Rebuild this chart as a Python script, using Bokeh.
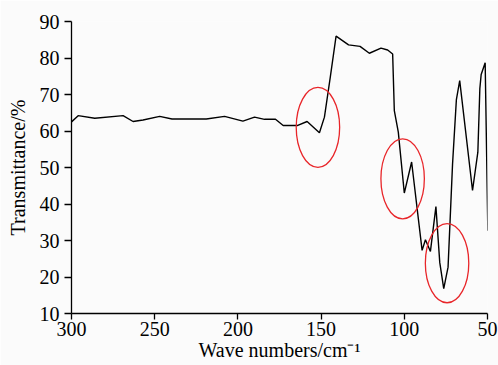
from bokeh.plotting import figure
from bokeh.models import Range1d, FixedTicker
from bokeh.embed import file_html
from bokeh.resources import INLINE

wavenumber = [300, 296, 286, 269, 263, 257, 247, 239.6, 219, 208, 197, 190, 184, 177.4,
              172.8, 164.4, 158.4, 151, 148, 144.5, 141, 133.5, 126.6, 121, 114, 110, 107,
              106, 103.6, 100, 95.6, 89.3, 87.3, 84.3, 81, 78.7, 76.3, 73.7, 71, 68.7,
              66.7, 59, 55.8, 54.6, 53.8, 51.4, 49.8]
transmittance = [62.5, 64.2, 63.5, 64.2, 62.6, 63.0, 64.0, 63.3, 63.3, 64.0, 62.7, 63.8, 63.2, 63.2,
                 61.5, 61.5, 62.6, 59.5, 63.8, 74.7, 86.0, 83.6, 83.2, 81.3, 82.7, 82.2, 81.1,
                 65.6, 59.7, 43.0, 51.5, 27.3, 30.2, 27.0, 39.3, 24.0, 16.8, 22.7, 51.0, 68.6,
                 73.8, 43.7, 54.2, 71.6, 75.5, 78.7, 32.7]

circle_x = [151.9, 101.0, 74.3]
circle_y = [61.0, 46.9, 23.8]
circle_w = [26.1, 26.1, 26.1]
circle_h = [21.9, 21.9, 21.7]

x_ticks = [300, 250, 200, 150, 100, 50]
y_ticks = [10, 20, 30, 40, 50, 60, 70, 80, 90]

p = figure(width=498, height=365, output_backend="svg", toolbar_location=None,
           x_range=Range1d(300, 50), y_range=Range1d(10, 90),
           min_border_left=71, min_border_right=11, min_border_top=21, min_border_bottom=52)
p.background_fill_color = "#fbfbfb"
p.border_fill_color = "#fbfbfb"
p.outline_line_color = None
p.grid.visible = False

p.line(wavenumber, transmittance, line_color="black", line_width=1.4)
p.ellipse(x=circle_x, y=circle_y, width=circle_w, height=circle_h,
          fill_color=None, line_color="#e8262a", line_width=1.3)

font = "Liberation Serif"
for ax in (p.xaxis[0], p.yaxis[0]):
    ax.major_label_text_font = font
    ax.major_label_text_font_size = "20px"
    ax.major_label_text_color = "black"
    ax.axis_label_text_font = font
    ax.axis_label_text_font_size = "20px"
    ax.axis_label_text_font_style = "normal"
    ax.axis_label_text_color = "black"
    ax.minor_tick_line_color = None
    ax.axis_line_color = "black"
    ax.axis_line_width = 1.3
    ax.major_tick_line_color = "black"
    ax.major_tick_line_width = 1.3

p.xaxis[0].ticker = FixedTicker(ticks=x_ticks)
p.yaxis[0].ticker = FixedTicker(ticks=y_ticks)
p.xaxis[0].major_tick_in = 0
p.xaxis[0].major_tick_out = 6
p.yaxis[0].major_tick_in = 0
p.yaxis[0].major_tick_out = 7
p.xaxis[0].major_label_standoff = 2
p.yaxis[0].major_label_standoff = 5
p.xaxis[0].axis_label = "Wave numbers/cm\u207b\u00b9"
p.yaxis[0].axis_label = "Transmittance/%"
p.xaxis[0].axis_label_standoff = 0
p.yaxis[0].axis_label_standoff = 8

open("out.html", "w").write(file_html(p, INLINE))
